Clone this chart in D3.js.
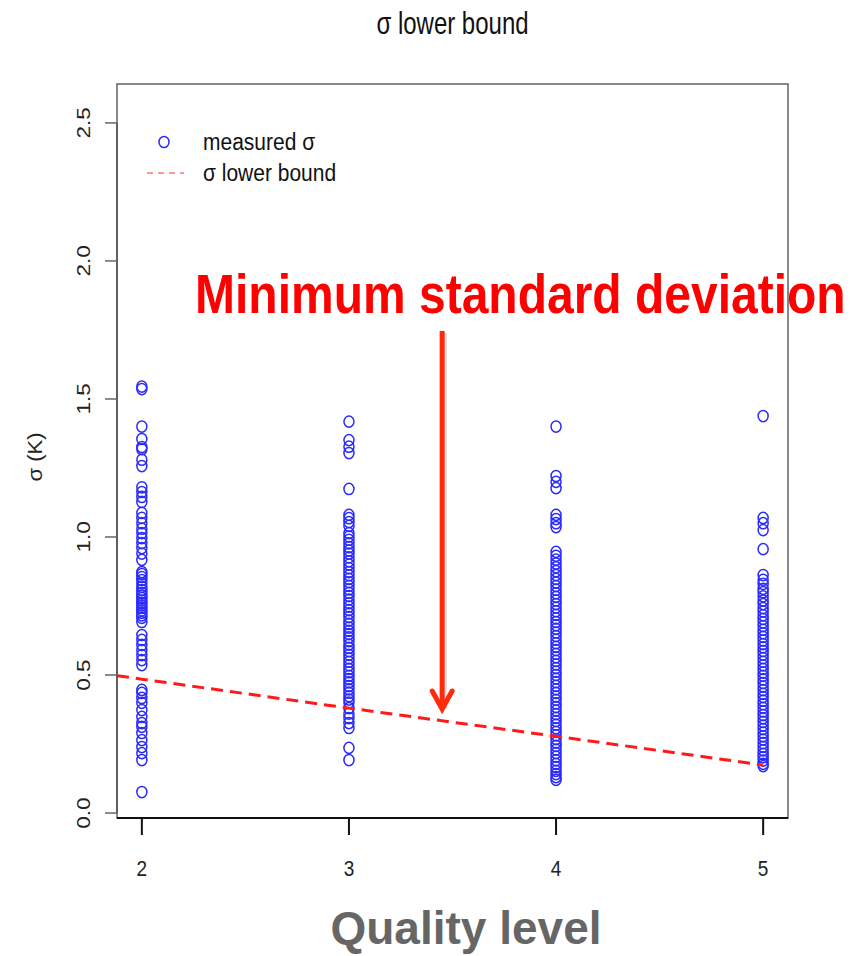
<!DOCTYPE html>
<meta charset="utf-8">

<!-- Load d3.js -->
<script src="https://d3js.org/d3.v7.min.js"></script>

<style>
  body { margin: 0; background: #fff; }
  text { font-family: "Liberation Sans", Arial, sans-serif; }
</style>

<!-- Create a div where the graph will take place -->
<div id="sigmaplot"></div>

<script>
// quality levels on the x axis
var quality = [2, 3, 4, 5];

// measured sigma (K) for each quality level
var sigmaQ2 = [1.545, 1.536, 1.40, 1.355, 1.326, 1.318, 1.28, 1.257, 1.18, 1.163, 1.145, 1.127,
  1.087, 1.069, 1.05, 1.03, 1.014, 0.996, 0.978, 0.96, 0.94, 0.917, 0.873, 0.866, 0.855, 0.844,
  0.832, 0.82, 0.808, 0.797, 0.788, 0.779, 0.77, 0.761, 0.752, 0.743, 0.734, 0.725, 0.716, 0.707,
  0.692, 0.645, 0.627, 0.609, 0.59, 0.572, 0.554, 0.536, 0.446, 0.435, 0.417, 0.399, 0.373, 0.348,
  0.326, 0.312, 0.29, 0.264, 0.239, 0.217, 0.192, 0.076];
var sigmaQ3 = [1.418, 1.351, 1.327, 1.304, 1.174, 1.08, 1.068, 1.054, 1.04, 1.014, 1.002, 0.99,
  0.977, 0.963, 0.951, 0.94, 0.926, 0.912, 0.9, 0.887, 0.873, 0.861, 0.848, 0.836, 0.823, 0.81,
  0.798, 0.786, 0.773, 0.76, 0.748, 0.735, 0.723, 0.71, 0.697, 0.685, 0.672, 0.66, 0.648, 0.636,
  0.623, 0.61, 0.598, 0.586, 0.573, 0.56, 0.548, 0.535, 0.522, 0.51, 0.497, 0.485, 0.473, 0.46,
  0.448, 0.436, 0.423, 0.411, 0.4, 0.38, 0.36, 0.344, 0.326, 0.308, 0.236, 0.192];
var sigmaQ4 = [1.40, 1.221, 1.20, 1.177, 1.08, 1.065, 1.05, 1.036, 0.946, 0.932, 0.918, 0.904,
  0.89, 0.876, 0.862, 0.848, 0.835, 0.822, 0.809, 0.796, 0.783, 0.77, 0.757, 0.744, 0.731, 0.718,
  0.705, 0.692, 0.68, 0.667, 0.654, 0.641, 0.628, 0.615, 0.602, 0.59, 0.577, 0.564, 0.551, 0.538,
  0.525, 0.512, 0.5, 0.487, 0.474, 0.461, 0.448, 0.435, 0.422, 0.41, 0.397, 0.384, 0.371, 0.358,
  0.345, 0.333, 0.32, 0.307, 0.294, 0.281, 0.268, 0.255, 0.243, 0.23, 0.217, 0.204, 0.191, 0.178,
  0.166, 0.153, 0.141, 0.13, 0.12];
var sigmaQ5 = [1.438, 1.069, 1.05, 1.025, 0.956, 0.862, 0.845, 0.83, 0.812, 0.8, 0.785, 0.77,
  0.757, 0.742, 0.73, 0.716, 0.703, 0.69, 0.677, 0.664, 0.651, 0.638, 0.625, 0.612, 0.6, 0.587,
  0.574, 0.561, 0.548, 0.535, 0.522, 0.509, 0.497, 0.484, 0.471, 0.458, 0.445, 0.432, 0.42, 0.407,
  0.394, 0.381, 0.368, 0.355, 0.343, 0.33, 0.317, 0.304, 0.291, 0.278, 0.266, 0.253, 0.24, 0.227,
  0.214, 0.202, 0.19, 0.178, 0.17];

// sigma lower bound at each quality level
var lowerBound = [0.485, 0.380, 0.278, 0.174];

var yTicks = [0, 0.5, 1.0, 1.5, 2.0, 2.5];
var yTickLabels = ["0.0", "0.5", "1.0", "1.5", "2.0", "2.5"];
var xTickLabels = ["2", "3", "4", "5"];

var width = 858, height = 956;
var box = {left: 117, right: 788, top: 84, bottom: 818};

var svg = d3.select("#sigmaplot")
  .append("svg")
    .attr("width", width)
    .attr("height", height);

var x = d3.scaleLinear().domain([1.88, 5.12]).range([box.left, box.right]);
var y = d3.scaleLinear().domain([-0.018, 2.641]).range([box.bottom, box.top]);

svg.append("clipPath").attr("id", "clip")
  .append("rect")
    .attr("x", box.left).attr("y", box.top)
    .attr("width", box.right - box.left).attr("height", box.bottom - box.top);

// title
svg.append("text")
  .attr("transform", "translate(" + x(3.5) + ",34) scale(1,1.28)")
  .attr("text-anchor", "middle")
  .style("font-size", "24px")
  .style("fill", "#111")
  .text("σ lower bound");

// points
var points = [];
[sigmaQ2, sigmaQ3, sigmaQ4, sigmaQ5].forEach(function(arr, i) {
  arr.forEach(function(v) { points.push({q: quality[i], s: v}); });
});

svg.append("g")
  .selectAll("ellipse")
  .data(points)
  .enter()
  .append("ellipse")
    .attr("cx", function(d) { return x(d.q); })
    .attr("cy", function(d) { return y(d.s); })
    .attr("rx", 5)
    .attr("ry", 5.6)
    .style("fill", "none")
    .style("stroke", "#2a2aff")
    .style("stroke-width", 1.5);

// lower bound line, extended left to the box edge with the first segment's slope
var slope0 = (lowerBound[1] - lowerBound[0]) / (quality[1] - quality[0]);
var lbLine = [{q: x.domain()[0], s: lowerBound[0] + slope0 * (x.domain()[0] - quality[0])}]
  .concat(quality.map(function(q, i) { return {q: q, s: lowerBound[i]}; }));

svg.append("path")
  .datum(lbLine)
  .attr("clip-path", "url(#clip)")
  .attr("d", d3.line().x(function(d) { return x(d.q); }).y(function(d) { return y(d.s); }))
  .style("fill", "none")
  .style("stroke", "#ff1a1a")
  .style("stroke-width", 3)
  .style("stroke-dasharray", "12,7");

// box
svg.append("rect")
  .attr("x", box.left).attr("y", box.top)
  .attr("width", box.right - box.left).attr("height", box.bottom - box.top)
  .style("fill", "none")
  .style("stroke", "#6b6b6b")
  .style("stroke-width", 1.6);

// y axis
var yAxis = svg.append("g");
yAxis.append("line")
  .attr("x1", box.left).attr("x2", box.left)
  .attr("y1", y(0)).attr("y2", y(2.5))
  .style("stroke", "#555").style("stroke-width", 1.6);
yAxis.selectAll(".ytick")
  .data(yTicks)
  .enter()
  .append("line")
    .attr("x1", box.left - 12).attr("x2", box.left)
    .attr("y1", function(d) { return y(d); })
    .attr("y2", function(d) { return y(d); })
    .style("stroke", "#666").style("stroke-width", 1.5);
yAxis.selectAll(".ylab")
  .data(yTicks)
  .enter()
  .append("text")
    .attr("transform", function(d) { return "translate(90," + y(d) + ") rotate(-90) scale(1.25,1)"; })
    .attr("text-anchor", "middle")
    .style("font-size", "18px")
    .style("fill", "#222")
    .text(function(d, i) { return yTickLabels[i]; });

svg.append("text")
  .attr("transform", "translate(42," + y(1.29) + ") rotate(-90) scale(1.1,1)")
  .attr("text-anchor", "middle")
  .style("font-size", "20px")
  .style("fill", "#222")
  .text("σ (K)");

// x axis
var xAxis = svg.append("g");
xAxis.append("line")
  .attr("x1", box.left).attr("x2", box.right)
  .attr("y1", box.bottom).attr("y2", box.bottom)
  .style("stroke", "#111").style("stroke-width", 2);
xAxis.selectAll(".xtick")
  .data(quality)
  .enter()
  .append("line")
    .attr("x1", function(d) { return x(d); })
    .attr("x2", function(d) { return x(d); })
    .attr("y1", box.bottom).attr("y2", box.bottom + 17)
    .style("stroke", "#111").style("stroke-width", 2);
xAxis.selectAll(".xlab")
  .data(quality)
  .enter()
  .append("text")
    .attr("transform", function(d) { return "translate(" + x(d) + ",876) scale(1,1.2)"; })
    .attr("text-anchor", "middle")
    .style("font-size", "19px")
    .style("fill", "#222")
    .text(function(d, i) { return xTickLabels[i]; });

// legend
var legend = svg.append("g");
legend.append("ellipse")
  .attr("cx", 164).attr("cy", 142)
  .attr("rx", 5).attr("ry", 5.6)
  .style("fill", "none").style("stroke", "#2a2aff").style("stroke-width", 1.5);
legend.append("line")
  .attr("x1", 147).attr("x2", 184).attr("y1", 173).attr("y2", 173)
  .style("stroke", "#ff3030").style("stroke-width", 1.2)
  .style("stroke-dasharray", "6,5");
legend.append("text")
  .attr("transform", "translate(203,150) scale(1,1.15)")
  .style("font-size", "21px").style("fill", "#111")
  .text("measured σ");
legend.append("text")
  .attr("transform", "translate(203,181) scale(1,1.15)")
  .style("font-size", "21px").style("fill", "#111")
  .text("σ lower bound");

// annotation
svg.append("text")
  .attr("transform", "translate(195,313) scale(1,1.15)")
  .style("font-size", "48px")
  .style("font-weight", "bold")
  .style("fill", "#ff0000")
  .text("Minimum standard deviation");

var arrowX = x(3.45);
var arrowTop = 331, arrowTip = 711;
var arrow = svg.append("g");
// soft shadow
arrow.append("line")
  .attr("x1", arrowX + 3).attr("x2", arrowX + 3)
  .attr("y1", arrowTop + 2).attr("y2", arrowTip - 2)
  .style("stroke", "#000").style("stroke-opacity", 0.12).style("stroke-width", 4);
arrow.append("line")
  .attr("x1", arrowX).attr("x2", arrowX)
  .attr("y1", arrowTop).attr("y2", arrowTip - 3)
  .style("stroke", "#ff2a0a").style("stroke-width", 5);
arrow.append("path")
  .attr("d", "M" + (arrowX - 10) + "," + (arrowTip - 20) + "L" + arrowX + "," + (arrowTip - 2) +
    "L" + (arrowX + 10) + "," + (arrowTip - 20))
  .style("fill", "none").style("stroke", "#ff2a0a").style("stroke-width", 5)
  .style("stroke-linecap", "round").style("stroke-linejoin", "miter");

// x axis title
svg.append("text")
  .attr("x", 466).attr("y", 944)
  .attr("text-anchor", "middle")
  .style("font-size", "46px")
  .style("font-weight", "bold")
  .style("fill", "#666")
  .text("Quality level");
</script>
